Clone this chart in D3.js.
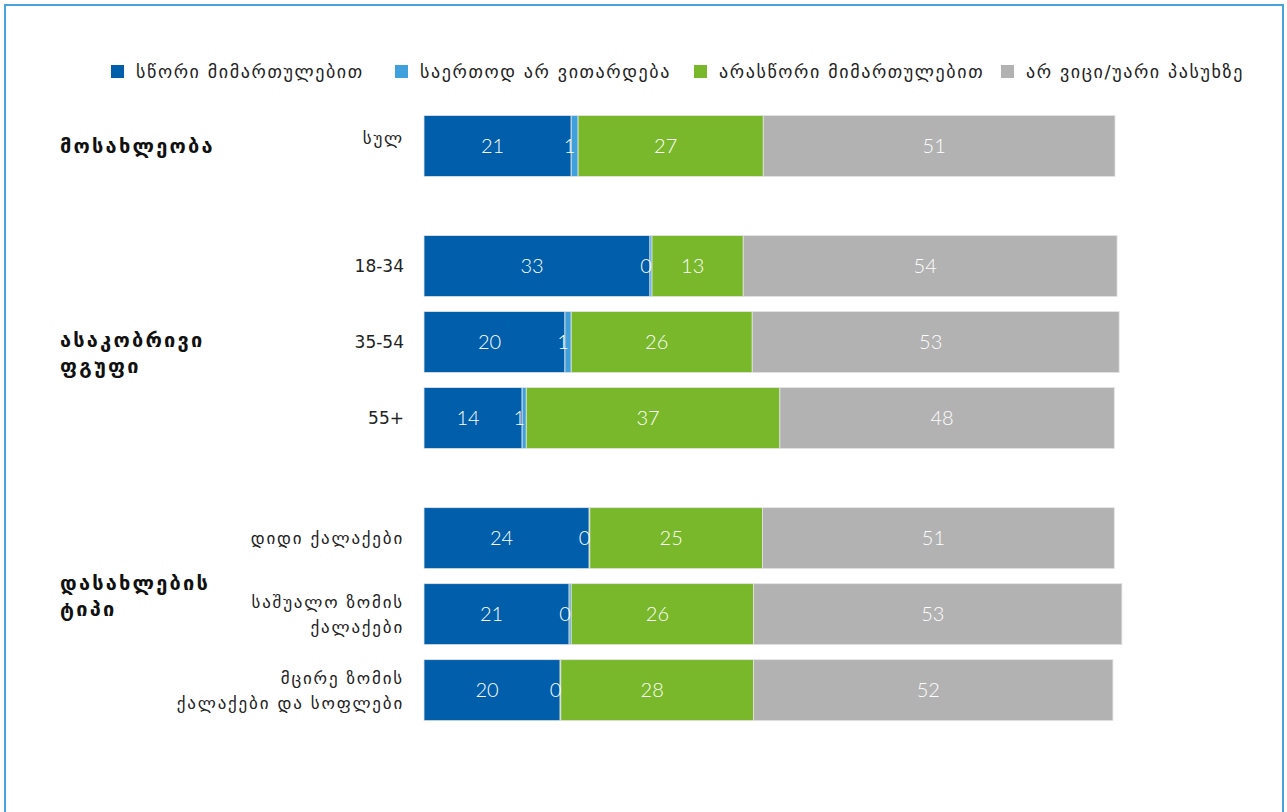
<!doctype HTML>
<html>
<head>
    <style>
        body { margin: 0; background: #fff; }
        text { font-family: "DejaVu Sans", "Noto Sans", sans-serif; }
        .num { font-family: Lato, "Open Sans", sans-serif; font-weight: 300; fill: #fff; }
    </style>
    <script src="https://d3js.org/d3.v7.min.js"></script>
</head>
<body>
<script>
    // data (percent)
    var seriesNames = ["სწორი მიმართულებით", "საერთოდ არ ვითარდება", "არასწორი მიმართულებით", "არ ვიცი/უარი პასუხზე"];
    var groupNames = [["მოსახლეობა"], ["ასაკობრივი", "ფგუფი"], ["დასახლების", "ტიპი"]];
    var rowGroups = [0, 1, 1, 1, 2, 2, 2];
    var rowLabels = [["სულ"], ["18-34"], ["35-54"], ["55+"], ["დიდი ქალაქები"],
        ["საშუალო ზომის", "ქალაქები"], ["მცირე ზომის", "ქალაქები და სოფლები"]];
    var rightDirection = [21.3, 32.7, 20.4, 14.2, 23.9, 21.0, 19.7];
    var notDeveloping  = [1.0, 0.3, 0.9, 0.6, 0.1, 0.3, 0.1];
    var wrongDirection = [26.8, 13.2, 26.2, 36.7, 25.0, 26.4, 27.9];
    var dontKnow       = [50.9, 54.1, 53.1, 48.4, 50.9, 53.3, 52.0];

    var colors = ["#005eaa", "#3fa0dc", "#78b82a", "#b2b2b2"];

    var W = 1287, H = 812;
    var georgian = /[\u10A0-\u10FF]/;
    function spacing(s, px) { return georgian.test(s) ? px : 0; }

    var svg = d3.select("body").append("svg")
        .attr("width", W)
        .attr("height", H);

    // frame
    svg.append("rect")
        .attr("x", 5).attr("y", 5)
        .attr("width", W - 9).attr("height", H + 10)
        .attr("fill", "none")
        .attr("stroke", "#4aa3df")
        .attr("stroke-width", 2);

    // legend
    var legendX = [111, 395, 694, 1001];
    var legend = svg.selectAll(".legend")
        .data(seriesNames)
        .enter().append("g")
        .attr("class", "legend")
        .attr("transform", function(d, i) { return "translate(" + legendX[i] + ",65)"; });
    legend.append("rect")
        .attr("width", 13).attr("height", 13)
        .attr("fill", function(d, i) { return colors[i]; });
    legend.append("text")
        .attr("x", 25).attr("y", 13)
        .attr("font-size", "18px")
        .attr("letter-spacing", "1.6px")
        .attr("fill", "#222")
        .text(function(d) { return d; });

    // rows -> stacked data
    var rows = rowLabels.map(function(l, i) {
        return {label: l, group: rowGroups[i],
            vals: [rightDirection[i], notDeveloping[i], wrongDirection[i], dontKnow[i]]};
    });
    rows.forEach(function(r, i) {
        r.slot = i + r.group * 0.58;
        var acc = 0;
        r.segs = r.vals.map(function(v, k) {
            var s = {x0: acc, x1: acc + v, v: v, k: k};
            acc += v;
            return s;
        });
    });

    var x = d3.scaleLinear().domain([0, 100]).range([424, 1115]);
    var y = d3.scaleLinear().domain([0, 1]).range([146, 222]);
    var barH = 61;

    var rowG = svg.selectAll(".row")
        .data(rows)
        .enter().append("g")
        .attr("class", "row")
        .attr("transform", function(d) { return "translate(0," + y(d.slot) + ")"; });

    rowG.selectAll("rect")
        .data(function(d) { return d.segs; })
        .enter().append("rect")
        .attr("x", function(d) { return x(d.x0); })
        .attr("y", -barH / 2)
        .attr("width", function(d) { return x(d.x1) - x(d.x0); })
        .attr("height", barH)
        .attr("fill", function(d) { return colors[d.k]; })
        .attr("stroke", "#e4e4e4")
        .attr("stroke-width", 0.8);

    rowG.selectAll(".num")
        .data(function(d) { return d.segs; })
        .enter().append("text")
        .attr("class", "num")
        .attr("x", function(d) { return (x(d.x0) + x(d.x1)) / 2 - 5; })
        .attr("y", 0)
        .attr("dy", "0.36em")
        .attr("text-anchor", "middle")
        .attr("font-size", "20px")
        .text(function(d) { return Math.round(d.v); });

    // row labels
    rowG.each(function(d) {
        var t = d3.select(this).append("text")
            .attr("text-anchor", "end")
            .attr("font-size", "17px")
            .attr("fill", "#222");
        var n = d.label.length;
        d.label.forEach(function(s, j) {
            t.append("tspan")
                .attr("x", 404)
                .attr("y", (j - (n - 1) / 2) * 25 - (n === 1 && d.group === 0 ? 8 : 0))
                .attr("dy", "0.35em")
                .attr("letter-spacing", spacing(s, 1.8) + "px")
                .text(s);
        });
    });

    // group labels
    var groupShift = [0, 11, -18];
    var groupCenter = groupNames.map(function(g, gi) {
        var slots = rows.filter(function(r) { return r.group === gi; }).map(function(r) { return r.slot; });
        return y(d3.mean(slots)) + groupShift[gi];
    });
    groupNames.forEach(function(g, gi) {
        var t = svg.append("text")
            .attr("font-size", "20px")
            .attr("font-weight", "bold")
            .attr("letter-spacing", "2.2px")
            .attr("fill", "#111");
        g.forEach(function(s, j) {
            t.append("tspan")
                .attr("x", 60)
                .attr("y", groupCenter[gi] + (j - (g.length - 1) / 2) * 26)
                .attr("dy", "0.35em")
                .text(s);
        });
    });
</script>
</body>
</html>
